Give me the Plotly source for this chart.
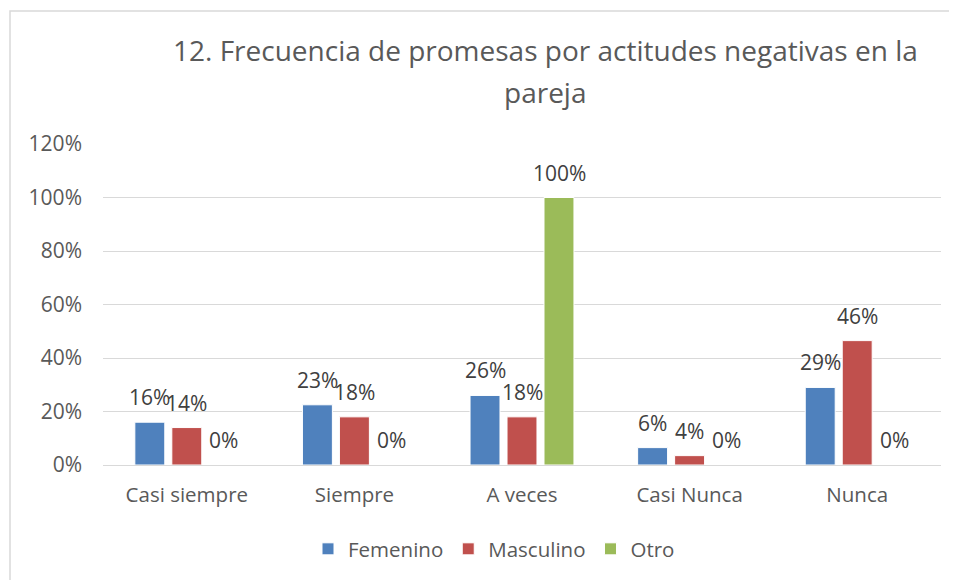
import plotly.graph_objects as go

categorias = ['Casi siempre', 'Siempre', 'A veces', 'Casi Nunca', 'Nunca']
femenino = [0.16, 0.225, 0.26, 0.065, 0.29]
masculino = [0.14, 0.18, 0.18, 0.035, 0.465]
otro = [0.0, 0.0, 1.0, 0.0, 0.0]
etiquetas_fem = ['16%', '23%', '26%', '6%', '29%']
etiquetas_mas = ['14%', '18%', '18%', '4%', '46%']
etiquetas_otro = ['0%', '0%', '100%', '0%', '0%']

FONT = 'Open Sans'
GRIS = '#595959'

series = [
    ('Femenino', femenino, etiquetas_fem, '#4F81BD'),
    ('Masculino', masculino, etiquetas_mas, '#C0504D'),
    ('Otro', otro, etiquetas_otro, '#9BBB59'),
]

fig = go.Figure()
anots = []
for i, (nombre, vals, etq, color) in enumerate(series):
    fig.add_trace(go.Bar(
        x=categorias, y=vals, name=nombre,
        marker=dict(color=color, line=dict(color='white', width=1)),
    ))
    # etiquetas de datos un poco por encima de cada barra (como en Excel)
    for cat, v, t in zip(categorias, vals, etq):
        anots.append(dict(x=cat, y=v, xref='x', yref='y', text=t, showarrow=False,
                          xshift=(i - 1) * 37, yshift=25, yanchor='middle',
                          font=dict(family=FONT, size=21, color='#404040')))

# la pagina tiene 8px de margen en el body, se compensa aqui
OFF = 8
W, H = 957, 580
ml, mr, mt, mb = 103 - OFF, 24, 144 - OFF, 123
pw, ph = W - ml - mr, H - mt - mb

def px_x(x):
    return (x - OFF - ml) / pw

def px_y(y):
    return (H - mb - (y - OFF)) / ph

titulo = ['12. Frecuencia de promesas por actitudes negativas en la', 'pareja']
for txt, yy in zip(titulo, [50, 92]):
    anots.append(dict(x=px_x(545), y=px_y(yy), xref='paper', yref='paper', text=txt,
                      showarrow=False, xanchor='center', yanchor='middle',
                      font=dict(family=FONT, size=28, color=GRIS)))

fig.update_layout(
    width=W, height=H,
    margin=dict(l=ml, r=mr, t=mt, b=mb),
    paper_bgcolor='white', plot_bgcolor='white',
    barmode='group', bargap=0.338, bargroupgap=0.19,
    font=dict(family=FONT, color=GRIS, size=20),
    annotations=anots,
    yaxis=dict(range=[0, 1.2], dtick=0.2, tickformat='.0%',
               showgrid=True, gridcolor='#D9D9D9', gridwidth=1,
               zeroline=False, showline=False, ticks='', ticklabelstandoff=20,
               tickfont=dict(size=21, color=GRIS)),
    xaxis=dict(showline=True, linecolor='#D9D9D9', ticks='', ticklabelstandoff=11,
               tickfont=dict(size=20.5, color=GRIS)),
    legend=dict(orientation='h', x=(494 - OFF) / W, xanchor='center', xref='container',
                y=1 - (549 - OFF) / H, yanchor='middle', yref='container',
                font=dict(size=20.5, color=GRIS), itemwidth=30),
    shapes=[dict(type='rect', xref='paper', yref='paper',
                 x0=px_x(10), x1=px_x(W + 5 + OFF),
                 y0=px_y(H + 5 + OFF), y1=px_y(11),
                 line=dict(color='#D9D9D9', width=1.5), layer='below')],
)

fig.write_html('out.html')
